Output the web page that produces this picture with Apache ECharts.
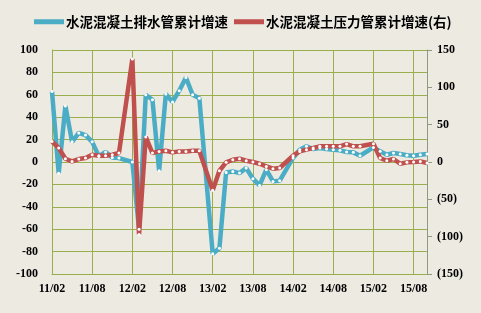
<!DOCTYPE html>
<html><head><meta charset="utf-8">
<script src="https://cdn.jsdelivr.net/npm/echarts@6/dist/echarts.min.js"></script>
<style>html,body{margin:0;padding:0;background:#edeae2;}#c{width:481px;height:313px;}</style>
</head><body><div id="c"></div>
<script>
// months 11/02 .. 15/10 (January is not reported -> null)
var months = [];
(function(){ for (var y = 11; y <= 15; y++) { for (var m = (y === 11 ? 2 : 1); m <= 12; m++) { if (y === 15 && m > 10) break; months.push(y + '/' + (m < 10 ? '0' + m : m)); } } })();

var seriesNames = ['水泥混凝土排水管累计增速', '水泥混凝土压力管累计增速(右)'];

// drainage pipe cumulative growth (%), left axis
var drainage = [
  63, -10, 50, 18, 26, 24, 18, 5, 9, 4, 3.5,
  null, 0, -60, 60, 55.6, -7.8, 60.7, 53.6, 63.7, 75.5, 60, 57,
  null, -82, -77, -9.3, -8.4, -9.9, -5.4, -14.9, -20.9, -6.9, -17.3, -16.7,
  null, 3.6, 11, 14, 11.6, 12.5, 11.6, 11, 10.4, 8.9, 8.6, 5.6,
  null, 13, 9.5, 6.5, 8, 7.1, 6, 5.6, 6.5, 7.1
];

// pressure pipe cumulative growth (%), right axis
var pressure = [
  27.6, 18.7, 4.4, 0.8, 4, 5.4, 9.8, 8.4, 8.4, 9.8, 12,
  null, 138, -97, 33.5, 12, 14.2, 15, 12.9, 14.2, 14.2, 15, 15,
  null, -38, -11.7, -0.5, 3, 4.4, 1.7, 0, -2.3, -5.9, -9, -8,
  null, 8.4, 14.2, 16.5, 18.7, 21, 21, 21, 21, 24, 21, 21,
  null, 24.5, 5.4, 1.7, 4, -2.3, -0.5, 0, 0.8, -1.3
];

var leftTicks = {min: -100, max: 100, interval: 20};
var rightTicks = {min: -150, max: 150, interval: 50};

var blue = '#4bacc6', red = '#c0504d', gridC = '#9aae4e';
var lblFont = {fontFamily: 'Liberation Serif', fontWeight: 'bold', fontSize: 12, color: '#000'};
var iconPath = 'path://M0,0L30,0L30,5L0,5Z M14,2.5A1.3,1.3 0 1 1 16.6,2.5A1.3,1.3 0 1 1 14,2.5Z';

var chart = echarts.init(document.getElementById('c'));
chart.setOption({
  backgroundColor: '#edeae2',
  animation: false,
  legend: {
    left: 29, top: 10, itemWidth: 30, itemHeight: 5, itemGap: 6,
    textStyle: {fontFamily: 'Noto Sans CJK SC', fontWeight: 'bold', fontSize: 13.5, color: '#000', padding: [0,0,0,-3]},
    data: [
      {name: seriesNames[0], icon: iconPath, itemStyle: {color: blue, borderWidth: 0}},
      {name: seriesNames[1], icon: iconPath, itemStyle: {color: red, borderWidth: 0}}
    ]
  },
  grid: {left: 52, right: 54, top: 50, bottom: 39},
  xAxis: {
    type: 'category', data: months, boundaryGap: false,
    axisLine: {show: true, onZero: false, lineStyle: {color: gridC, width: 1}},
    axisTick: {show: false},
    axisLabel: Object.assign({interval: 5, margin: 9}, lblFont),
    splitLine: {show: true, interval: 5, lineStyle: {color: gridC, width: 1}}
  },
  yAxis: [
    {
      type: 'value', min: leftTicks.min, max: leftTicks.max, interval: leftTicks.interval,
      axisLine: {show: true, lineStyle: {color: gridC}},
      axisTick: {show: false},
      axisLabel: Object.assign({margin: 14}, lblFont),
      splitLine: {show: true, lineStyle: {color: gridC, width: 1}}
    },
    {
      type: 'value', min: rightTicks.min, max: rightTicks.max, interval: rightTicks.interval,
      position: 'right',
      axisLine: {show: true, lineStyle: {color: '#8f9a80'}},
      axisTick: {show: true, length: 5, lineStyle: {color: '#8f9a80'}},
      axisLabel: Object.assign({margin: 10, formatter: function(v){ return v < 0 ? '(' + (-v) + ')' : String(v); }}, lblFont),
      splitLine: {show: false}
    }
  ],
  series: [
    {
      name: seriesNames[0], type: 'line', yAxisIndex: 0, data: drainage, connectNulls: true,
      symbol: 'circle', symbolSize: 3, showAllSymbol: true,
      lineStyle: {color: blue, width: 4.5},
      itemStyle: {color: '#fff', borderColor: blue, borderWidth: 0}
    },
    {
      name: seriesNames[1], type: 'line', yAxisIndex: 1, data: pressure, connectNulls: true,
      symbol: 'circle', symbolSize: 3, showAllSymbol: true,
      lineStyle: {color: red, width: 4.5},
      itemStyle: {color: '#fff', borderColor: red, borderWidth: 0}
    }
  ]
});
</script></body></html>
